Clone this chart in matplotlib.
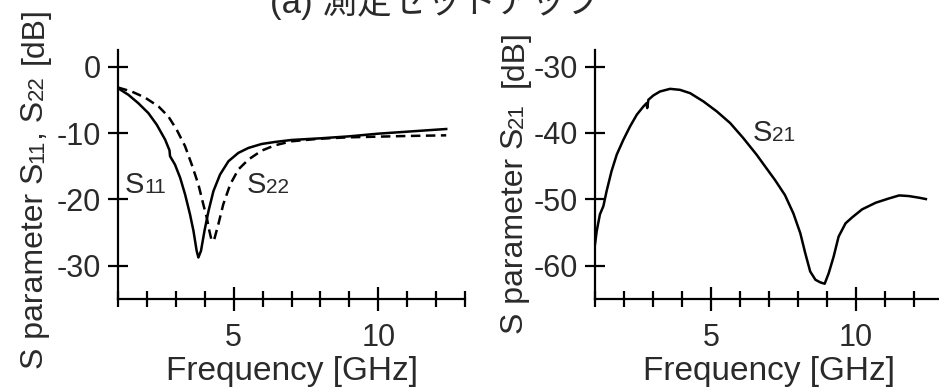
import matplotlib
matplotlib.use("Agg")
import matplotlib.pyplot as plt
from matplotlib.transforms import IdentityTransform
from matplotlib.ticker import MultipleLocator

# ---------------- data ----------------
f11 = [1.0, 1.36, 1.70, 2.05, 2.34, 2.63, 2.78, 2.80, 2.97, 3.15, 3.32, 3.49, 3.61, 3.72,
       3.78, 3.87, 3.99, 4.13, 4.30, 4.53, 4.82, 5.16, 5.51, 5.97, 6.43, 7.0, 8.0, 9.0,
       10.0, 11.0, 12.0, 12.35]
s11 = [-3.25, -4.25, -5.5, -7.0, -8.75, -11.0, -12.6, -13.5, -14.75, -16.75, -19.25,
       -22.25, -24.75, -27.75, -28.75, -27.75, -24.75, -21.75, -18.75, -16.25, -14.25,
       -13.0, -12.25, -11.65, -11.35, -11.05, -10.8, -10.5, -10.1, -9.8, -9.5, -9.4]

f22 = [1.0, 1.47, 1.93, 2.40, 2.74, 3.03, 3.32, 3.55, 3.78, 3.95, 4.07, 4.16, 4.24, 4.33,
       4.47, 4.64, 4.88, 5.16, 5.51, 5.97, 6.43, 7.0, 8.0, 9.0, 10.0, 11.0, 12.35]
s22 = [-3.15, -3.75, -4.65, -6.0, -7.5, -9.5, -12.0, -14.75, -17.75, -20.75, -22.75,
       -24.75, -26.25, -26.0, -23.75, -20.75, -17.75, -15.5, -14.0, -12.65, -11.85,
       -11.25, -10.85, -10.65, -10.55, -10.45, -10.35]

f21 = [1.0, 1.06, 1.17, 1.29, 1.40, 1.57, 1.75, 1.98, 2.21, 2.44, 2.67, 2.78, 2.80, 2.84,
       3.01, 3.24, 3.59, 3.93, 4.28, 4.74, 5.20, 5.66, 6.11, 6.57, 6.86, 7.21, 7.55, 7.84,
       8.08, 8.25, 8.42, 8.60, 8.77, 8.92, 9.06, 9.23, 9.40, 9.64, 9.87, 10.21, 10.68,
       11.14, 11.49, 11.83, 12.18, 12.41]
s21 = [-56.75, -54.75, -52.25, -51.0, -48.75, -45.75, -43.25, -41.0, -39.0, -37.25, -36.0,
       -35.5, -36.25, -35.0, -34.35, -33.75, -33.35, -33.5, -34.0, -35.25, -36.75, -38.5,
       -40.75, -43.25, -45.0, -47.1, -49.35, -52.1, -55.1, -58.1, -60.85, -62.1, -62.5,
       -62.7, -61.1, -58.6, -55.6, -53.6, -52.7, -51.5, -50.5, -49.85, -49.4, -49.5,
       -49.75, -49.95]

title = "(a) 測定セットアップ"
xlabel = "Frequency [GHz]"

# ---------------- figure ----------------
plt.rcParams["font.family"] = ["Liberation Sans", "Noto Sans CJK JP", "DejaVu Sans"]
plt.rcParams["axes.unicode_minus"] = False
W, H = 939, 389
fig = plt.figure(figsize=(W / 100, H / 100), dpi=100)
TXT = "#2a2a2a"


def px_axes(l, t, r, b):
    return [l / W, 1 - b / H, (r - l) / W, (b - t) / H]


ax1 = fig.add_axes(px_axes(118, 50, 465, 299))
ax2 = fig.add_axes(px_axes(595, 50, 943, 299))

LW = 1.8
ax1.plot(f11, s11, color="black", lw=LW, solid_joinstyle="round")
ax1.plot(f22, s22, color="black", lw=LW, ls=(0, (3.8, 2.2)))
ax1.set_ylim(-35, 2.5)
ax1.set_yticks([0, -10, -20, -30])

ax2.plot(f21, s21, color="black", lw=LW, solid_joinstyle="round")
ax2.set_ylim(-65, -27.5)
ax2.set_yticks([-30, -40, -50, -60])

for ax in (ax1, ax2):
    ax.set_xlim(1, 13)
    ax.set_xticks([5, 10])
    ax.xaxis.set_minor_locator(MultipleLocator(1))
    for s in ("top", "right"):
        ax.spines[s].set_visible(False)
    for s in ("left", "bottom"):
        ax.spines[s].set_linewidth(1.6)
    ax.tick_params(axis="x", which="major", direction="inout", length=17, width=1.6,
                   labelsize=22, pad=9, labelcolor=TXT)
    ax.tick_params(axis="x", which="minor", direction="inout", length=12, width=1.6)
    ax.tick_params(axis="y", which="major", direction="inout", length=14, width=1.6,
                   labelsize=22, pad=5, labelcolor=TXT)
    ax.set_xlabel(xlabel, fontsize=24, color=TXT, labelpad=2)
    ax.patch.set_alpha(0)

fig.text(435, H - 13, title, ha="center", va="baseline", fontsize=25, color=TXT,
         transform=IdentityTransform())

renderer = fig.canvas.get_renderer()


def rich(x, y, pieces, rotation=0, ha="left"):
    """pieces: (text, size, gap_px_before). x,y display pixels (baseline start)."""
    widths = []
    for s, size, gap in pieces:
        t = fig.text(0, 0, s, fontsize=size, transform=IdentityTransform())
        widths.append(t.get_window_extent(renderer).width + gap)
        t.remove()
    total = sum(widths)
    pos = -total / 2 if ha == "center" else 0
    for (s, size, gap), w in zip(pieces, widths):
        pos += gap
        if rotation == 0:
            fig.text(x + pos, y, s, fontsize=size, color=TXT, ha="left", va="baseline",
                     transform=IdentityTransform())
        else:
            fig.text(x, y + pos, s, fontsize=size, color=TXT, ha="left", va="baseline",
                     rotation=90, rotation_mode="anchor", transform=IdentityTransform())
        pos += w - gap


BIG, SMALL = 23, 16
rich(43, H - 188, [("S parameter S", BIG, 0), ("11", SMALL, 0), (", S", BIG, 0),
                   ("22", SMALL, 0), ("[dB]", BIG, 12)], rotation=90, ha="center")
rich(523, H - 182, [("S parameter S", BIG, 0), ("21", SMALL, 0), ("[dB]", BIG, 16)],
     rotation=90, ha="center")


def label(ax, x, y, sub):
    X, Y = ax.transData.transform((x, y))
    rich(X, Y, [("S", 21, 0), (sub, 15, 0)])


label(ax1, 1.24, -19.05, "11")
label(ax1, 5.46, -19.05, "22")
label(ax2, 6.45, -41.2, "21")

fig.savefig("out.png", dpi=100)
